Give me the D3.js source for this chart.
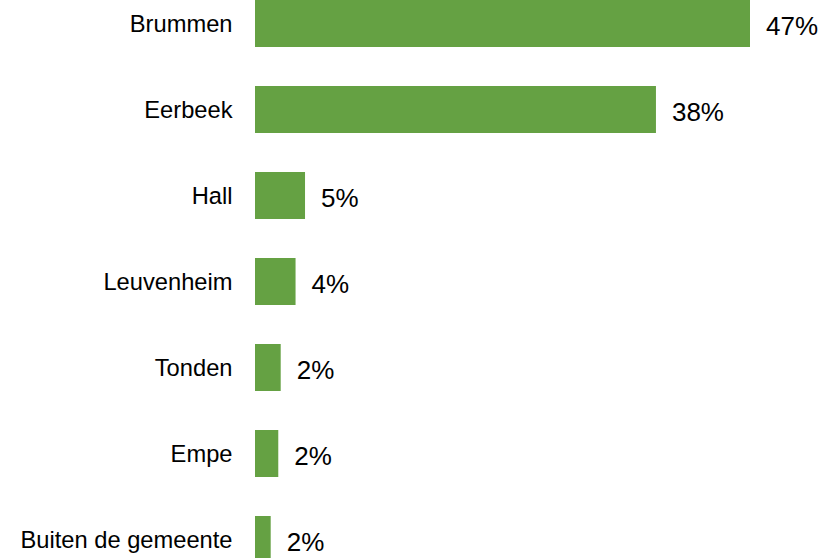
<!DOCTYPE html>
<html>
<head>
<meta charset="utf-8">
<script src="https://cdn.jsdelivr.net/npm/d3@7"></script>
<style>
  body { margin: 0; background: #fff; }
  svg { display: block; font-family: Arial, "Liberation Sans", sans-serif; }
</style>
</head>
<body>
<svg></svg>
<script>
const categories = ["Brummen", "Eerbeek", "Hall", "Leuvenheim", "Tonden", "Empe", "Buiten de gemeente"];
const values = [47, 38.07, 4.75, 3.85, 2.44, 2.21, 1.49]; // percent
const valueLabels = ["47%", "38%", "5%", "4%", "2%", "2%", "2%"];

const w = 840;
const h = 558;
const barLeft = 255; // where bars start
const barColor = "#65a143";

let svg = d3.select("svg").attr("width", w).attr("height", h);

let xScale = d3.scaleLinear()
  .domain([0, 47])
  .range([barLeft, 750]);

let yScale = d3.scaleBand()
  .domain(categories)
  .range([0, 563])
  .paddingInner(39 / 86)
  .paddingOuter(0);

let rows = categories.map((c, i) => ({ cat: c, value: values[i], label: valueLabels[i] }));

// bars
svg.selectAll("rect.bar")
  .data(rows)
  .enter()
  .append("rect")
  .attr("class", "bar")
  .attr("x", xScale(0))
  .attr("y", d => yScale(d.cat))
  .attr("width", d => xScale(d.value) - xScale(0))
  .attr("height", yScale.bandwidth())
  .attr("fill", barColor);

// category labels on the left
svg.selectAll("text.cat")
  .data(rows)
  .enter()
  .append("text")
  .attr("class", "cat")
  .attr("x", xScale(0) - 22.5)
  .attr("y", d => yScale(d.cat) + yScale.bandwidth() / 2 + 8.7)
  .attr("text-anchor", "end")
  .attr("font-size", 23.7)
  .attr("fill", "#000")
  .text(d => d.cat);

// value labels after each bar
svg.selectAll("text.val")
  .data(rows)
  .enter()
  .append("text")
  .attr("class", "val")
  .attr("x", d => xScale(d.value) + 16)
  .attr("y", d => yScale(d.cat) + yScale.bandwidth() / 2 + 11.3)
  .attr("font-size", 26)
  .attr("fill", "#000")
  .text(d => d.label);
</script>
</body>
</html>
